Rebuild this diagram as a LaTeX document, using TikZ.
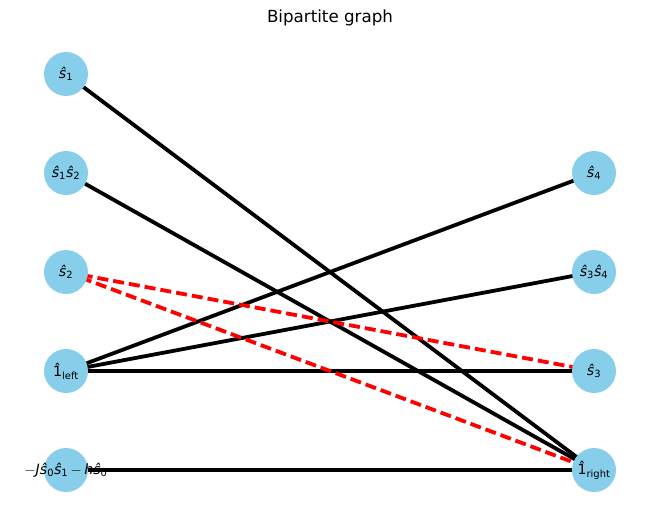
\documentclass[tikz,border=0pt]{standalone}
\usepackage{fontspec}
\setmainfont{DejaVu Sans}
\usepackage{tikz}
\pgfdeclarelayer{bg}
\pgfsetlayers{bg,main}
\definecolor{skyblue}{HTML}{87CEEB}
\newcommand{\hs}[1]{\textit{\^{s}}\textsubscript{#1}}
\tikzset{
  vert/.style={circle, fill=skyblue, minimum size=44pt, inner sep=0pt,
    label={[font=\fontsize{14.2}{16}\selectfont, inner sep=0pt]center:#1}},
  solid edge/.style={line width=3.8pt, black},
  dash edge/.style={line width=3.8pt, red, dash pattern=on 11pt off 5pt}
}
\begin{document}
\begin{tikzpicture}[x=1pt, y=-1pt]
        \useasboundingbox (0,0) rectangle (660,522);
        \node (title) at (330,18) {\fontsize{16.7}{20}\selectfont Bipartite graph};
        \node (v0) [vert={\hs{1}}] at (66,74) {};
        \node (v1) [vert={\hs{1}\hs{2}}] at (66,173) {};
        \node (v2) [vert={\hs{2}}] at (66,272) {};
        \node (v3) [vert={\^{1}\textsubscript{left}}] at (66,371) {};
        \node (v4) [vert={$-$\textit{J}\hs{0}\hs{1}$\,-\,$\textit{h}\hs{0}}] at (66,470) {};
        \node (v5) [vert={\hs{4}}] at (594,173) {};
        \node (v6) [vert={\hs{3}\hs{4}}] at (594,272) {};
        \node (v7) [vert={\hs{3}}] at (594,371) {};
        \node (v8) [vert={\^{1}\textsubscript{right}}] at (594,470) {};
        \begin{pgfonlayer}{bg}
                \draw (v0.center) edge [solid edge] (v8.center);
                \draw (v1.center) edge [solid edge] (v8.center);
                \draw (v3.center) edge [solid edge] (v5.center);
                \draw (v3.center) edge [solid edge] (v6.center);
                \draw (v3.center) edge [solid edge] (v7.center);
                \draw (v4.center) edge [solid edge] (v8.center);
                \draw (v2.center) edge [dash edge] (v7.center);
                \draw (v2.center) edge [dash edge] (v8.center);
        \end{pgfonlayer}
\end{tikzpicture}
\end{document}
